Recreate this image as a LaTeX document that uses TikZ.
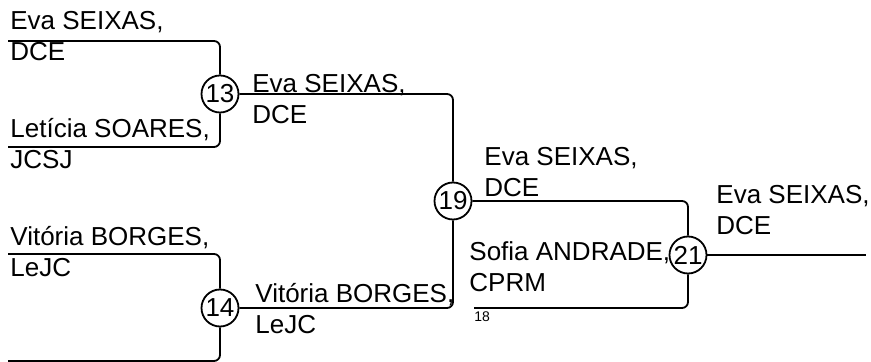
\documentclass[tikz,border=0pt]{standalone}
\usepackage{fontspec}
\setmainfont{Liberation Sans}
\usetikzlibrary{positioning}

\begin{document}
\begin{tikzpicture}[x=0.5pt, y=-0.5pt, font=\fontsize{13}{15.6}\selectfont]
    % Define styles
    \tikzstyle{match} = [circle, draw=black, line width=0.9pt, minimum size=18.5pt, inner sep=0pt]
    \tikzstyle{player} = [anchor=base west, align=left, inner sep=0pt]
    \tikzstyle{bracket} = [line width=0.9pt, rounded corners=3pt]

    \useasboundingbox (0,0) rectangle (871,362);

    % Matches
    \node [match] (m13) at (220,94) {13};
    \node [match] (m14) at (220,308) {14};
    \node [match] (m19) at (453,201) {19};
    \node [match] (m21) at (688,255) {21};

    % Free line ends
    \coordinate (e1) at (8,41);
    \coordinate (e2) at (8,147);
    \coordinate (e3) at (8,254);
    \coordinate (e4) at (8,361);
    \coordinate (e18) at (474,308);
    \coordinate (final) at (866,255);

    % Brackets
    \draw [bracket] (e1) -| (m13);
    \draw [bracket] (e2) -| (m13);
    \draw [bracket] (e3) -| (m14);
    \draw [bracket] (e4) -| (m14);
    \draw [bracket] (m13) -| (m19);
    \draw [bracket] (m14) -| (m19);
    \draw [bracket] (m19) -| (m21);
    \draw [bracket] (e18) -| (m21);
    \draw [bracket] (m21) -- (final);

    % Players (anchored at the second line)
    \node [player] (p1) at (10,61) {Eva SEIXAS,\\DCE};
    \node [player] (p2) at (10,169) {Letícia SOARES,\\JCSJ};
    \node [player] (p3) at (10,277) {Vitória BORGES,\\LeJC};
    \node [player] (w13) at (252,124) {Eva SEIXAS,\\DCE};
    \node [player] (w14) at (255,334) {Vitória BORGES,\\LeJC};
    \node [player] (w19) at (484,197) {Eva SEIXAS,\\DCE};
    \node [player] (p18) at (469,292) {Sofia ANDRADE,\\CPRM};
    \node [player] (w21) at (716,235) {Eva SEIXAS,\\DCE};
    \node [anchor=base west, inner sep=0pt, font=\fontsize{7}{8}\selectfont] (n18) at (474,322) {18};

\end{tikzpicture}
\end{document}
